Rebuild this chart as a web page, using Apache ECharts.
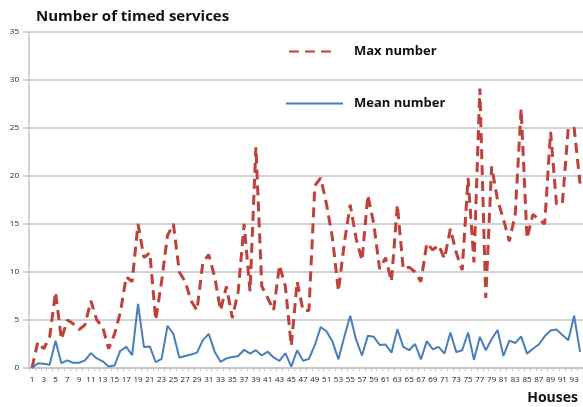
<!DOCTYPE html>
<html>
<head>
<meta charset="utf-8">
<script src="https://cdn.jsdelivr.net/npm/echarts@6/dist/echarts.min.js"></script>
<style>html,body{margin:0;padding:0;background:#fff}#c{width:583px;height:407px}</style>
</head>
<body>
<div id="c"></div>
<script>
const houses = [];
for (let i = 1; i <= 94; i++) houses.push(String(i));

const maxNumber = [0, 2.7, 2.0, 3.2, 7.9, 3.0, 5.0, 4.6, 4.0, 4.5,
  7.0, 5.0, 4.3, 2.0, 3.5, 5.8, 9.5, 9.0, 15.0, 11.5,
  12.0, 5.0, 9.0, 13.8, 15.0, 10.0, 9.0, 7.0, 6.0, 11.0,
  11.8, 9.5, 6.0, 8.5, 5.2, 8.0, 15.0, 8.0, 23.0, 8.5,
  7.3, 6.0, 10.7, 8.5, 2.3, 9.0, 6.0, 6.0, 19.0, 19.8,
  17.0, 13.5, 8.0, 13.0, 17.0, 13.5, 11.2, 18.0, 15.0, 10.3,
  11.5, 9.0, 17.0, 10.3, 10.5, 10.0, 9.0, 13.0, 12.3, 12.8,
  11.4, 14.5, 12.0, 10.2, 19.8, 11.0, 29.1, 7.3, 21.0, 17.5,
  15.5, 13.2, 16.0, 27.0, 13.5, 16.0, 15.5, 15.0, 24.6, 17.1,
  17.1, 25.0, 25.0, 19.2];

const meanNumber = [0, 0.5, 0.45, 0.35, 2.85, 0.5, 0.8, 0.55, 0.55, 0.8,
  1.55, 1.0, 0.7, 0.15, 0.25, 1.8, 2.2, 1.35, 6.67, 2.2,
  2.25, 0.6, 0.95, 4.4, 3.55, 1.1, 1.25, 1.4, 1.6, 2.9,
  3.55, 1.7, 0.65, 1.0, 1.15, 1.25, 1.9, 1.5, 1.85, 1.3,
  1.7, 1.1, 0.75, 1.55, 0.15, 1.85, 0.75, 0.95, 2.4, 4.27,
  3.8, 2.75, 0.9, 3.25, 5.45, 2.95, 1.3, 3.35, 3.25, 2.4,
  2.45, 1.6, 4.05, 2.2, 1.85, 2.5, 0.9, 2.8, 1.95, 2.2,
  1.5, 3.7, 1.65, 1.85, 3.7, 0.85, 3.25, 1.85, 3.0, 3.95,
  1.25, 2.85, 2.6, 3.3, 1.5, 2.0, 2.45, 3.3, 3.9, 4.0,
  3.45, 2.9, 5.45, 1.65];

const yTicks = { min: 0, max: 35, interval: 5 };

const chart = echarts.init(document.getElementById('c'), null, { renderer: 'canvas' });
const gridGray = '#c4c4c4';
chart.setOption({
  animation: false,
  backgroundColor: '#ffffff',
  title: [
    { text: 'Number of timed services', left: 31, top: 4,
      textStyle: { fontFamily: 'Open Sans', fontWeight: 'bold', fontSize: 15, color: '#111' } },
    { text: 'Houses', right: 0, top: 386,
      textStyle: { fontFamily: 'Open Sans', fontWeight: 'bold', fontSize: 14, color: '#111' } }
  ],
  legend: [
    { data: ['Max number'], left: 283, top: 40, itemWidth: 47, itemHeight: 14,
      itemStyle: { opacity: 0 },
      textStyle: { fontFamily: 'Open Sans', fontWeight: 'bold', fontSize: 13, color: '#111', padding: [0, 0, 0, 13] } },
    { data: ['Mean number'], left: 280, top: 92, itemWidth: 57, itemHeight: 14,
      itemStyle: { opacity: 0 },
      textStyle: { fontFamily: 'Open Sans', fontWeight: 'bold', fontSize: 13, color: '#111', padding: [0, 0, 0, 6] } }
  ],
  grid: { left: 29, right: 0, top: 32, bottom: 39, containLabel: false },
  xAxis: {
    type: 'category',
    data: houses,
    boundaryGap: true,
    axisLine: { lineStyle: { color: gridGray, width: 1.5 } },
    axisTick: { show: true, length: 3, interval: 0, lineStyle: { color: gridGray } },
    axisLabel: { interval: 1, fontSize: 8, color: '#222', margin: 8, fontFamily: 'Open Sans' },
    splitLine: { show: false }
  },
  yAxis: {
    type: 'value',
    min: yTicks.min, max: yTicks.max, interval: yTicks.interval,
    axisLine: { show: true, lineStyle: { color: gridGray, width: 1.5 } },
    axisTick: { show: true, length: 6, lineStyle: { color: gridGray, width: 1.5 } },
    axisLabel: { fontSize: 8, color: '#222', margin: 10, fontFamily: 'Open Sans' },
    splitLine: { show: true, lineStyle: { color: gridGray, width: 1.5 } }
  },
  series: [
    { name: 'Max number', type: 'line', data: maxNumber, symbol: 'none',
      color: '#c0403a',
      lineStyle: { color: '#c0403a', width: 3, type: [10, 6] } },
    { name: 'Mean number', type: 'line', data: meanNumber, symbol: 'none',
      color: '#4a7ebb',
      lineStyle: { color: '#4a7ebb', width: 2 } }
  ]
});
</script>
</body>
</html>
